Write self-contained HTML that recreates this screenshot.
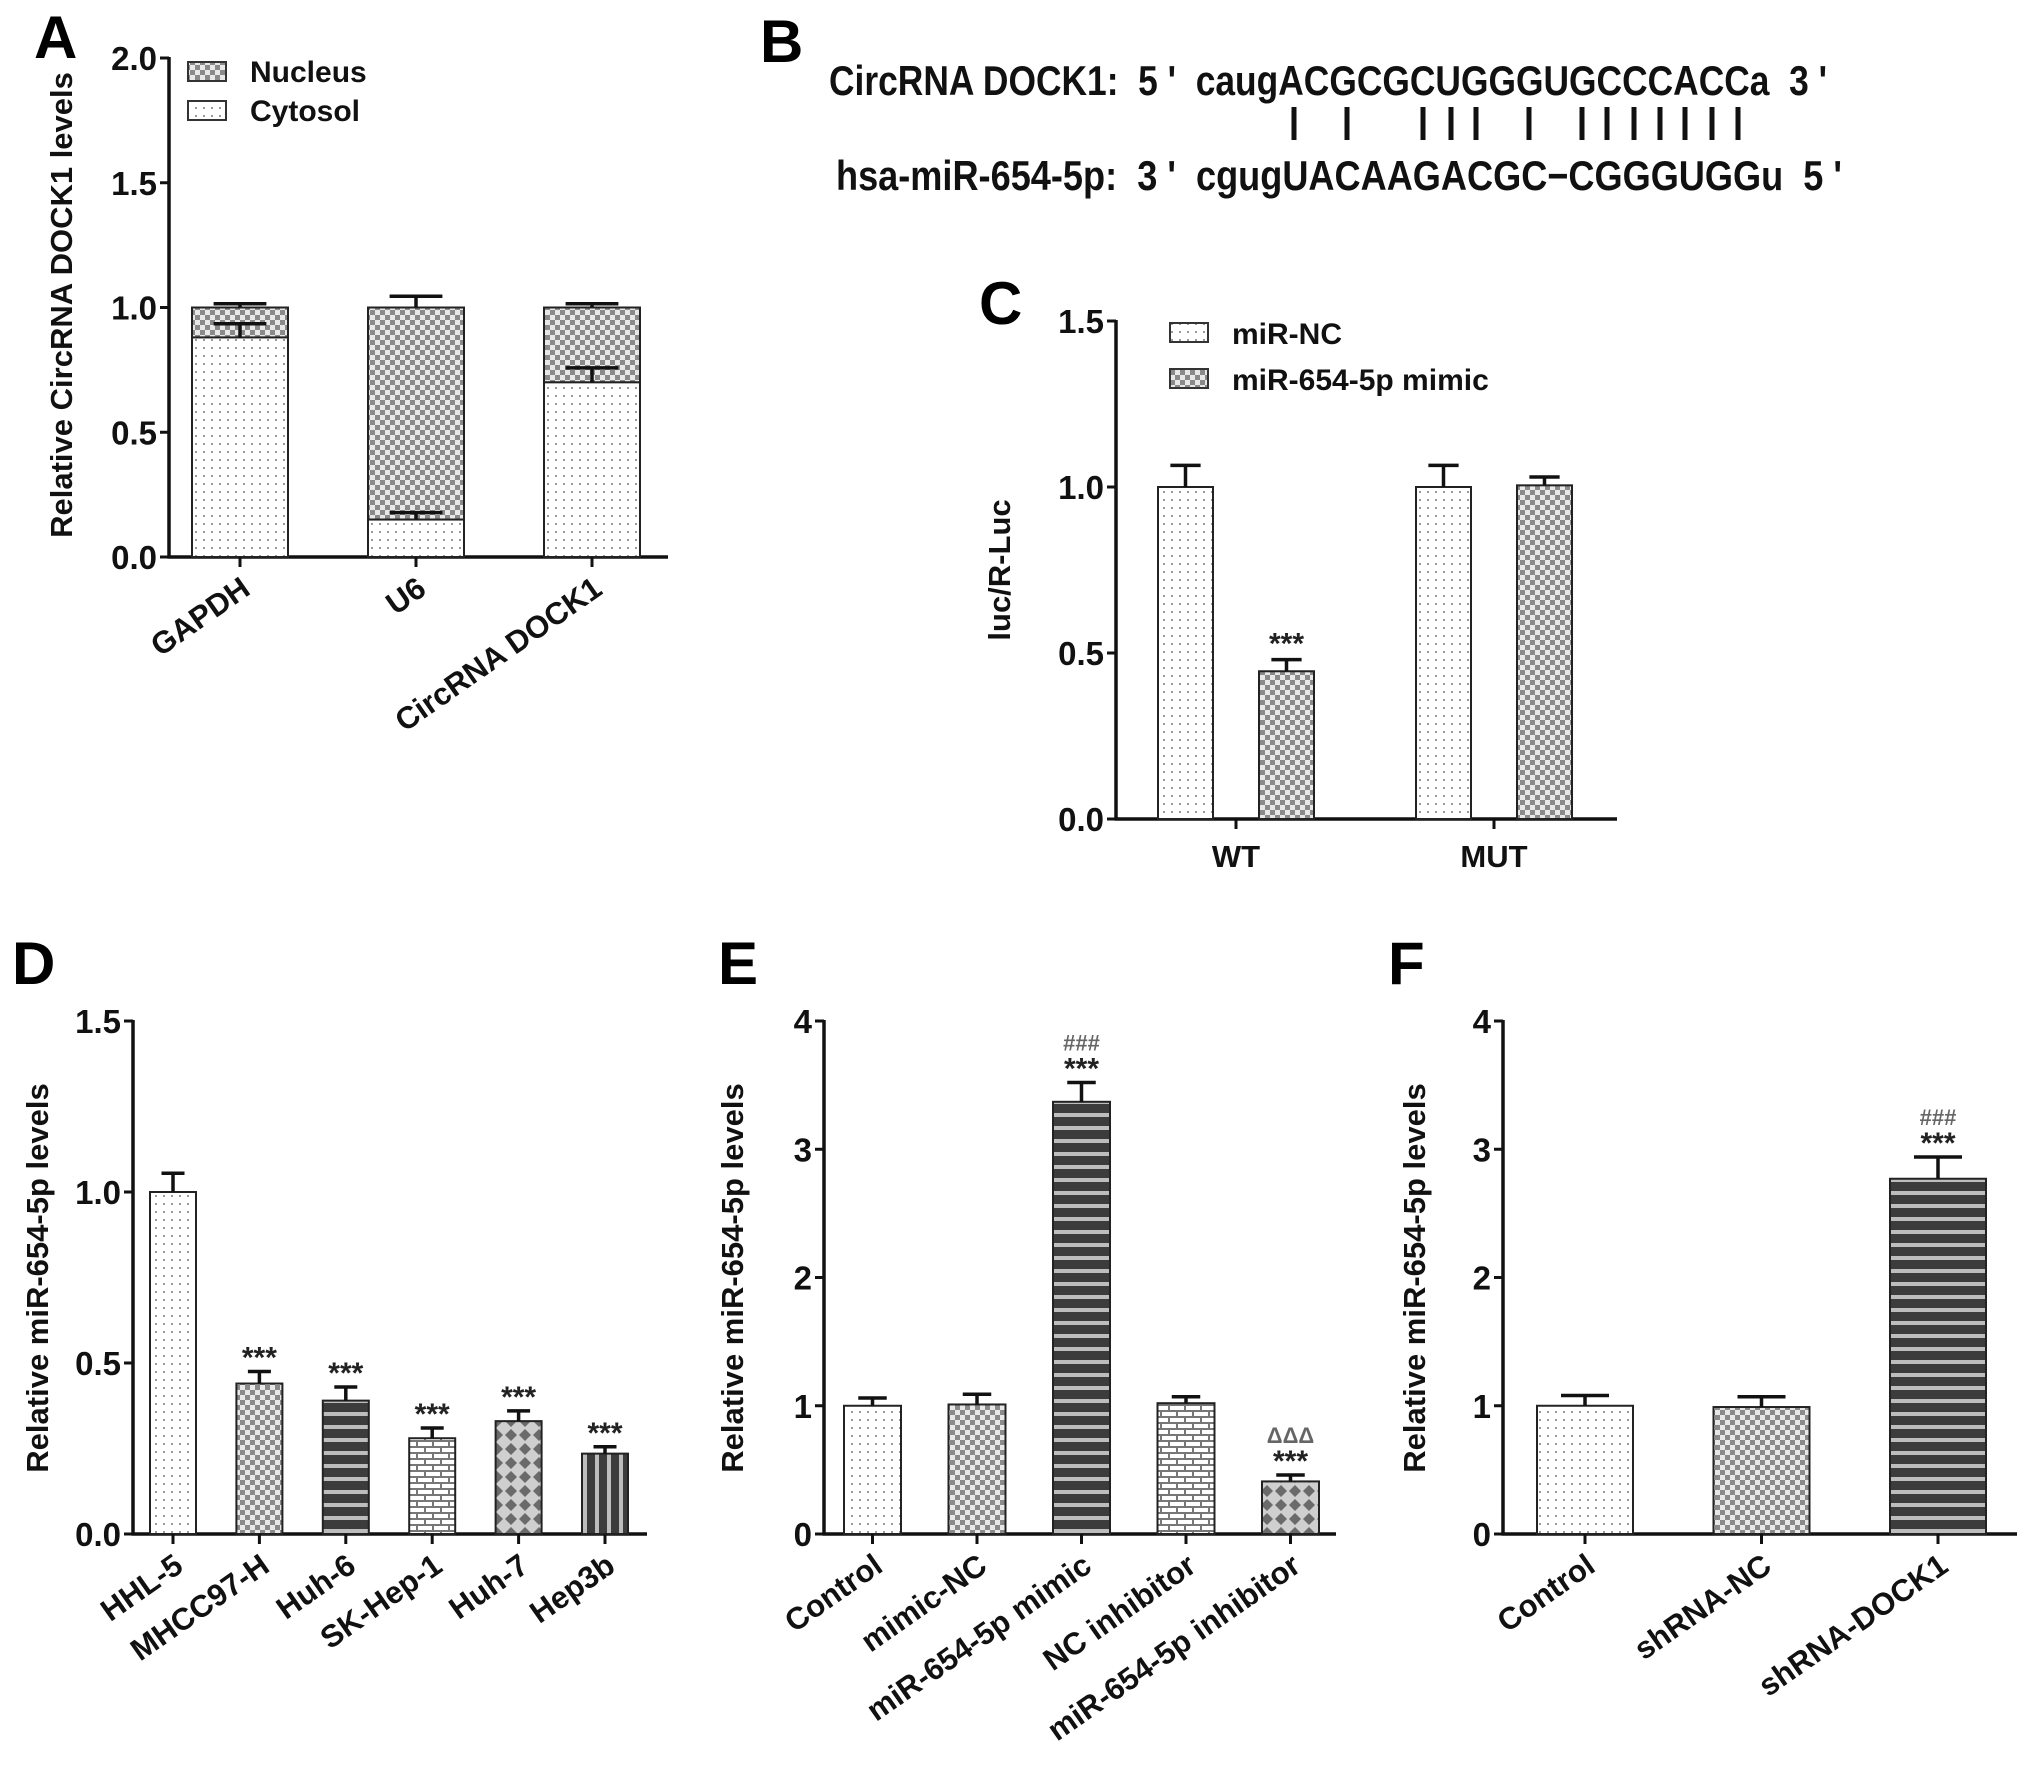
<!DOCTYPE html>
<html><head><meta charset="utf-8">
<style>
html,body{margin:0;padding:0;background:#fff;}
svg{display:block;font-family:"Liberation Sans",Arial,sans-serif;}
.tick{font-size:33px;font-weight:bold;fill:#111;}
.ylab{font-size:31px;font-weight:bold;fill:#111;}
.xlab{font-size:31px;font-weight:bold;fill:#111;}
.panel{font-size:60px;font-weight:bold;fill:#000;}
.leg{font-size:30px;font-weight:bold;fill:#111;}
.seq{font-size:42px;font-weight:bold;fill:#111;}
</style></head>
<body>
<svg id="fig" width="2031" height="1768" viewBox="0 0 2031 1768" xmlns="http://www.w3.org/2000/svg">
<defs>
<pattern id="p-dots" width="8" height="8" patternUnits="userSpaceOnUse"><rect width="8" height="8" fill="#fff"/><rect x="3" y="3" width="2" height="2" fill="#9a9a9a"/></pattern>
<pattern id="p-check" width="10" height="10" patternUnits="userSpaceOnUse"><rect width="10" height="10" fill="#e8e8e8"/><rect width="5" height="5" fill="#8a8a8a"/><rect x="5" y="5" width="5" height="5" fill="#8a8a8a"/></pattern>
<pattern id="p-hstripe" width="13" height="13" patternUnits="userSpaceOnUse"><rect width="13" height="13" fill="#3c3c3c"/><rect y="8" width="13" height="4" fill="#bdbdbd"/></pattern>
<pattern id="p-brick" width="16" height="12" patternUnits="userSpaceOnUse"><rect width="16" height="12" fill="#fff"/><rect y="0" width="16" height="2" fill="#777"/><rect y="6" width="16" height="2" fill="#777"/><rect x="0" y="0" width="2" height="6" fill="#777"/><rect x="8" y="6" width="2" height="6" fill="#777"/></pattern>
<pattern id="p-diamond" width="14" height="14" patternUnits="userSpaceOnUse"><rect width="14" height="14" fill="#cfcfcf"/><path d="M7 1 L13 7 L7 13 L1 7 Z" fill="#6a6a6a"/></pattern>
<pattern id="p-vstripe" width="12" height="12" patternUnits="userSpaceOnUse"><rect width="12" height="12" fill="#3c3c3c"/><rect x="7" width="4" height="12" fill="#bdbdbd"/></pattern>
</defs>

<text class="panel" x="34" y="58">A</text>
<text class="panel" x="760" y="62">B</text>
<text class="panel" x="979" y="324">C</text>
<text class="panel" x="12" y="984">D</text>
<text class="panel" x="718" y="984">E</text>
<text class="panel" x="1388" y="984">F</text>

<g>
<text class="seq" x="829" y="95" textLength="998" lengthAdjust="spacingAndGlyphs" xml:space="preserve">CircRNA DOCK1:  5 '  caugACGCGCUGGGUGCCCACCa  3 '</text>
<g stroke="#111" stroke-width="5">
<line x1="1294" y1="107" x2="1294" y2="140"/><line x1="1347" y1="107" x2="1347" y2="140"/>
<line x1="1423" y1="107" x2="1423" y2="140"/><line x1="1451" y1="107" x2="1451" y2="140"/>
<line x1="1476" y1="107" x2="1476" y2="140"/><line x1="1529" y1="107" x2="1529" y2="140"/>
<line x1="1582" y1="107" x2="1582" y2="140"/><line x1="1607" y1="107" x2="1607" y2="140"/>
<line x1="1634" y1="107" x2="1634" y2="140"/><line x1="1660" y1="107" x2="1660" y2="140"/>
<line x1="1685" y1="107" x2="1685" y2="140"/><line x1="1712" y1="107" x2="1712" y2="140"/>
<line x1="1738" y1="107" x2="1738" y2="140"/>
</g>
<text class="seq" x="836" y="190" textLength="1006" lengthAdjust="spacingAndGlyphs" xml:space="preserve">hsa-miR-654-5p:  3 '  cgugUACAAGACGC−CGGGUGGu  5 '</text>
</g>

<g id="charts"></g>
</svg>

<script>
// ---------- Panel A data ----------
const aCategories = ["GAPDH", "U6", "CircRNA DOCK1"];
const aCytosol = [0.88, 0.15, 0.70];
const aCytosolErr = [0.055, 0.028, 0.058];
const aTotal = [1.0, 1.0, 1.0];
const aTotalErr = [0.015, 0.045, 0.015];
const aTicks = [0, 0.5, 1.0, 1.5, 2.0];
const aTickLabels = ["0.0", "0.5", "1.0", "1.5", "2.0"];
const aLegend = ["Nucleus", "Cytosol"];

// ---------- Panel C data ----------
const cGroups = ["WT", "MUT"];
const cSeries = ["miR-NC", "miR-654-5p mimic"];
const cNC = [1.0, 1.0];
const cNCErr = [0.065, 0.065];
const cMimic = [0.445, 1.005];
const cMimicErr = [0.035, 0.025];
const cSig = ["***", ""];
const cTicks = [0, 0.5, 1.0, 1.5];
const cTickLabels = ["0.0", "0.5", "1.0", "1.5"];

// ---------- Panel D data ----------
const dCategories = ["HHL-5", "MHCC97-H", "Huh-6", "SK-Hep-1", "Huh-7", "Hep3b"];
const dValues = [1.0, 0.44, 0.39, 0.28, 0.33, 0.235];
const dErrors = [0.055, 0.035, 0.04, 0.03, 0.03, 0.02];
const dSig = ["", "***", "***", "***", "***", "***"];
const dTicks = [0, 0.5, 1.0, 1.5];
const dTickLabels = ["0.0", "0.5", "1.0", "1.5"];

// ---------- Panel E data ----------
const eCategories = ["Control", "mimic-NC", "miR-654-5p mimic", "NC inhibitor", "miR-654-5p inhibitor"];
const eValues = [1.0, 1.01, 3.37, 1.02, 0.41];
const eErrors = [0.06, 0.08, 0.15, 0.05, 0.05];
const eSig = ["", "", "***", "", "***"];
const eSig2 = ["", "", "###", "", "ΔΔΔ"];
const eTicks = [0, 1, 2, 3, 4];
const eTickLabels = ["0", "1", "2", "3", "4"];

// ---------- Panel F data ----------
const fCategories = ["Control", "shRNA-NC", "shRNA-DOCK1"];
const fValues = [1.0, 0.99, 2.77];
const fErrors = [0.08, 0.08, 0.17];
const fSig = ["", "", "***"];
const fSig2 = ["", "", "###"];
const fTicks = [0, 1, 2, 3, 4];
const fTickLabels = ["0", "1", "2", "3", "4"];

const NS = "http://www.w3.org/2000/svg";
const root = document.getElementById("charts");
function mk(tag, attrs, parent, text) {
  const el = document.createElementNS(NS, tag);
  for (const k in attrs) el.setAttribute(k, attrs[k]);
  if (text !== undefined) el.textContent = text;
  (parent || root).appendChild(el);
  return el;
}

function axes(g, L) {
  const yS = v => L.y0 - (v / L.vmax) * (L.y0 - L.yTop);
  const ya = mk("line", {x1: L.ax, y1: L.yTop - 1, x2: L.ax, y2: L.y0 + 1.5, stroke: "#111", "stroke-width": 3.5}, g);
  
  
  const xa = mk("line", {x1: L.ax - 1.5, y1: L.y0, x2: L.axEnd, y2: L.y0, stroke: "#111", "stroke-width": 3.5}, g);
  
  
  L.ticks.forEach((t, i) => {
    const y = yS(t);
    mk("line", {x1: L.ax - 9, y1: y, x2: L.ax, y2: y, stroke: "#111", "stroke-width": 3}, g);
    const tl = mk("text", {x: L.ax - 12, y: y + 12, "text-anchor": "end", class: "tick"}, g, L.tickLabels[i]);
    
    
  });
  const yl = mk("text", {x: 0, y: 0, "text-anchor": "middle", class: "ylab", transform: `translate(${L.ylx},${L.yly}) rotate(-90)`}, g, L.ytitle);
  
  
  return yS;
}

function xLabel(g, x, y0, text, rotate) {
  mk("line", {x1: x, y1: y0, x2: x, y2: y0 + 10, stroke: "#111", "stroke-width": 3}, g);
  let t;
  if (rotate) {
    t = mk("text", {x: 0, y: 0, "text-anchor": "end", class: "xlab", transform: `translate(${x + 12},${y0 + 36}) rotate(-35)`}, g, text);
  } else {
    t = mk("text", {x: x, y: y0 + 48, "text-anchor": "middle", class: "xlab"}, g, text);
  }
  
  
}

function errBar(g, x, yTop, yErr, w) {
  const e = mk("g", {stroke: "#111", "stroke-width": 3.5}, g);
  
  
  mk("line", {x1: x, y1: yTop, x2: x, y2: yErr}, e);
  mk("line", {x1: x - w / 2, y1: yErr, x2: x + w / 2, y2: yErr}, e);
}

function bar(g, x, w, yTop, y0, fill, name) {
  const r = mk("rect", {x: x - w / 2, y: yTop, width: w, height: y0 - yTop, fill: fill, stroke: "#222", "stroke-width": 2}, g);
  
  
  return r;
}

function sigText(g, x, y, text, gray, size) {
  const t = mk("text", {x: x, y: y, "text-anchor": "middle", "font-size": size, "font-weight": "bold", fill: gray ? "#666" : "#222"}, g, text);
  
  
}

// ---------- Panel A ----------
(function () {
  const g = mk("g", {});
  
  
  const L = {ax: 169, axEnd: 668, y0: 557, yTop: 58, vmax: 2.0, ticks: aTicks, tickLabels: aTickLabels, ytitle: "Relative CircRNA DOCK1 levels", ylx: 72, yly: 305};
  const yS = axes(g, L);
  const first = 240, step = 176, w = 96;
  aCategories.forEach((c, i) => {
    const x = first + i * step;
    bar(g, x, w, yS(aTotal[i]), yS(aCytosol[i]), "url(#p-check)", "bar-nucleus-" + c.toLowerCase().replace(/\s+/g, "-"));
    bar(g, x, w, yS(aCytosol[i]), yS(0), "url(#p-dots)", "bar-cytosol-" + c.toLowerCase().replace(/\s+/g, "-"));
    errBar(g, x, yS(aTotal[i]), yS(aTotal[i] + aTotalErr[i]), w * 0.55);
    errBar(g, x, yS(aCytosol[i]), yS(aCytosol[i] + aCytosolErr[i]), w * 0.55);
    xLabel(g, x, L.y0, c, true);
  });
  const fills = ["url(#p-check)", "url(#p-dots)"];
  aLegend.forEach((s, i) => {
    const le = mk("g", {}, g);
    
    
    mk("rect", {x: 188, y: 62 + i * 39, width: 38, height: 19, fill: fills[i], stroke: "#333", "stroke-width": 2}, le);
    mk("text", {x: 250, y: 82 + i * 39, class: "leg"}, le, s);
  });
})();

// ---------- Panel C ----------
(function () {
  const g = mk("g", {});
  
  
  const L = {ax: 1116, axEnd: 1617, y0: 819, yTop: 321, vmax: 1.5, ticks: cTicks, tickLabels: cTickLabels, ytitle: "luc/R-Luc", ylx: 1010, yly: 570};
  const yS = axes(g, L);
  const first = 1236, step = 258, off = 50.5, w = 55;
  cGroups.forEach((c, i) => {
    const gx = first + i * step;
    bar(g, gx - off, w, yS(cNC[i]), yS(0), "url(#p-dots)", "bar-" + c.toLowerCase() + "-mir-nc");
    errBar(g, gx - off, yS(cNC[i]), yS(cNC[i] + cNCErr[i]), w * 0.55);
    bar(g, gx + off, w, yS(cMimic[i]), yS(0), "url(#p-check)", "bar-" + c.toLowerCase() + "-mimic");
    errBar(g, gx + off, yS(cMimic[i]), yS(cMimic[i] + cMimicErr[i]), w * 0.55);
    if (cSig[i]) sigText(g, gx + off, yS(cMimic[i] + cMimicErr[i]) - 6, cSig[i], false, 30);
    xLabel(g, gx, L.y0, c, false);
  });
  const fills = ["url(#p-dots)", "url(#p-check)"];
  cSeries.forEach((s, i) => {
    const le = mk("g", {}, g);
    
    
    mk("rect", {x: 1170, y: 323 + i * 46, width: 38, height: 19, fill: fills[i], stroke: "#333", "stroke-width": 2}, le);
    mk("text", {x: 1232, y: 344 + i * 46, class: "leg"}, le, s);
  });
})();

function simplePanel(name, L, cats, vals, errs, sig, sig2, fills, first, step, w) {
  const g = mk("g", {});
  
  
  const yS = axes(g, L);
  cats.forEach((c, i) => {
    const x = first + i * step;
    bar(g, x, w, yS(vals[i]), yS(0), fills[i % fills.length], "bar-" + c.toLowerCase().replace(/\s+/g, "-"));
    errBar(g, x, yS(vals[i]), yS(vals[i] + errs[i]), w * 0.5);
    const ye = yS(vals[i] + errs[i]);
    if (sig[i]) sigText(g, x, ye - 4, sig[i], false, 30);
    if (sig2 && sig2[i]) sigText(g, x, ye - 32, sig2[i], true, 22);
    xLabel(g, x, L.y0, c, true);
  });
}

simplePanel("panel-d-chart",
  {ax: 133, axEnd: 647, y0: 1534, yTop: 1021, vmax: 1.5, ticks: dTicks, tickLabels: dTickLabels, ytitle: "Relative miR-654-5p levels", ylx: 48, yly: 1278},
  dCategories, dValues, dErrors, dSig, null,
  ["url(#p-dots)", "url(#p-check)", "url(#p-hstripe)", "url(#p-brick)", "url(#p-diamond)", "url(#p-vstripe)"],
  173, 86.4, 46);

simplePanel("panel-e-chart",
  {ax: 824, axEnd: 1336, y0: 1534, yTop: 1021, vmax: 4, ticks: eTicks, tickLabels: eTickLabels, ytitle: "Relative miR-654-5p levels", ylx: 743, yly: 1278},
  eCategories, eValues, eErrors, eSig, eSig2,
  ["url(#p-dots)", "url(#p-check)", "url(#p-hstripe)", "url(#p-brick)", "url(#p-diamond)"],
  872.5, 104.5, 57);

simplePanel("panel-f-chart",
  {ax: 1503, axEnd: 2017, y0: 1534, yTop: 1021, vmax: 4, ticks: fTicks, tickLabels: fTickLabels, ytitle: "Relative miR-654-5p levels", ylx: 1425, yly: 1278},
  fCategories, fValues, fErrors, fSig, fSig2,
  ["url(#p-dots)", "url(#p-check)", "url(#p-hstripe)"],
  1585, 176.5, 96);
</script>
</body></html>
